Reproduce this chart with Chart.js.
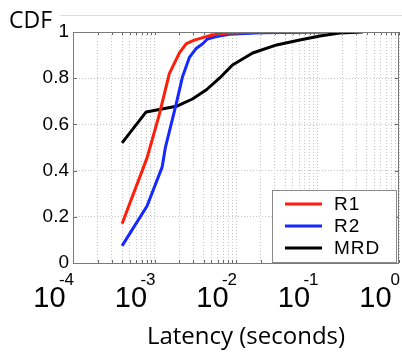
<!DOCTYPE html>
<html>
<head>
<meta charset="utf-8">
<script src="https://cdn.jsdelivr.net/npm/chart.js@4"></script>
<style>
  html, body { margin: 0; padding: 0; background: #fff; }
</style>
</head>
<body>
<canvas id="latency_cdf" width="402" height="354"></canvas>
<script>
// series (latency in seconds, CDF)
const seriesNames = ["R1", "R2", "MRD"];
const seriesColors = ["#ff1e0a", "#1428ff", "#000000"];

const r1Latency = [4.0e-4, 8.1e-4, 1.14e-3, 1.52e-3, 2.02e-3, 2.46e-3, 3.08e-3, 4.1e-3, 5.1e-3, 7.6e-3, 0.0195, 0.05];
const r1Cdf = [0.17, 0.455, 0.64, 0.82, 0.91, 0.95, 0.965, 0.978, 0.987, 0.995, 1.0, 1.0];

const r2Latency = [4.0e-4, 8.1e-4, 1.24e-3, 1.36e-3, 1.85e-3, 2.2e-3, 2.68e-3, 3.27e-3, 3.87e-3, 4.46e-3, 5.75e-3, 8.3e-3, 0.02, 0.13];
const r2Cdf = [0.074, 0.247, 0.415, 0.5, 0.69, 0.805, 0.89, 0.93, 0.948, 0.97, 0.98, 0.99, 0.997, 1.0];

const mrdLatency = [4.0e-4, 7.9e-4, 1.24e-3, 1.91e-3, 2.92e-3, 4.34e-3, 6.27e-3, 9.06e-3, 0.016, 0.0315, 0.0605, 0.107, 0.188, 0.36];
const mrdCdf = [0.52, 0.654, 0.667, 0.68, 0.71, 0.75, 0.8, 0.857, 0.909, 0.944, 0.965, 0.983, 0.996, 1.0];

// axis labels
const xDecades = [1e-4, 1e-3, 1e-2, 1e-1, 1];
const xExponents = ["-4", "-3", "-2", "-1", "0"];
const yTicks = [0, 0.2, 0.4, 0.6, 0.8, 1];
const xTitle = "Latency (seconds)";
const yTitle = "CDF";

const tickFont = "'Liberation Sans', Arial, sans-serif";
const titleFont = "'Open Sans', sans-serif";

function toPoints(xs, ys) {
  return xs.map((x, i) => ({ x: x, y: ys[i] }));
}

function minorTicks() {
  let ticks = [];
  for (let d = 0; d < xDecades.length - 1; d++) {
    for (let m = 1; m < 10; m++) ticks.push({ value: xDecades[d] * m });
  }
  ticks.push({ value: xDecades[xDecades.length - 1] });
  return ticks;
}

const decor = {
  id: "decor",
  afterDraw(chart) {
    const ctx = chart.ctx;
    const area = chart.chartArea;
    const xs = chart.scales.x;
    const ys = chart.scales.y;
    ctx.save();

    // separator line at the top
    ctx.strokeStyle = "#dddddd";
    ctx.lineWidth = 1;
    ctx.beginPath();
    ctx.moveTo(60, 15.5);
    ctx.lineTo(402, 15.5);
    ctx.stroke();

    // inner tick marks
    ctx.strokeStyle = "#666666";
    ctx.beginPath();
    xs.ticks.forEach(t => {
      let px = Math.round(xs.getPixelForValue(t.value)) + 0.5;
      ctx.moveTo(px, area.bottom);
      ctx.lineTo(px, area.bottom - 3);
      ctx.moveTo(px, area.top);
      ctx.lineTo(px, area.top + 3);
    });
    yTicks.forEach(v => {
      let py = Math.round(ys.getPixelForValue(v)) + 0.5;
      ctx.moveTo(area.left, py);
      ctx.lineTo(area.left + 4, py);
      ctx.moveTo(area.right, py);
      ctx.lineTo(area.right - 4, py);
    });
    ctx.stroke();

    // plot box
    ctx.strokeStyle = "#7a7a7a";
    ctx.strokeRect(area.left + 0.5, area.top + 0.5, area.right - area.left - 1, area.bottom - area.top);

    // x tick labels 10^k
    ctx.fillStyle = "#000";
    ctx.textAlign = "right";
    ctx.textBaseline = "alphabetic";
    xDecades.forEach((v, i) => {
      let px = xs.getPixelForValue(v) + 1;
      let exp = xExponents[i];
      ctx.font = "17px " + tickFont;
      let digitsW = ctx.measureText(exp.replace("-", "")).width;
      ctx.fillText(exp, px, 285);
      ctx.font = "29px " + tickFont;
      ctx.fillText("10", px - digitsW + 1, 307);
    });

    // axis titles
    ctx.font = "24px " + titleFont;
    ctx.textAlign = "center";
    ctx.fillText(xTitle, 246, 344);
    ctx.font = "23px " + titleFont;
    ctx.textAlign = "left";
    ctx.fillText(yTitle, 9, 28);

    // legend
    ctx.fillStyle = "#fff";
    ctx.fillRect(272, 190, 124, 72);
    ctx.strokeStyle = "#8a8a8a";
    ctx.strokeRect(272.5, 190.5, 124, 72);
    ctx.font = "19px " + tickFont;
    ctx.letterSpacing = "1px";
    ctx.textBaseline = "middle";
    chart.data.datasets.forEach((ds, i) => {
      let y = 204 + i * 22;
      ctx.strokeStyle = ds.borderColor;
      ctx.lineWidth = 3;
      ctx.beginPath();
      ctx.moveTo(285, y);
      ctx.lineTo(322, y);
      ctx.stroke();
      ctx.fillStyle = "#000";
      ctx.fillText(ds.label, 334, y + 1);
    });

    ctx.restore();
  },
};

function init() {
  const ctx = document.getElementById("latency_cdf");
  const data = {
    datasets: [
      { label: seriesNames[0], data: toPoints(r1Latency, r1Cdf), borderColor: seriesColors[0] },
      { label: seriesNames[1], data: toPoints(r2Latency, r2Cdf), borderColor: seriesColors[1] },
      { label: seriesNames[2], data: toPoints(mrdLatency, mrdCdf), borderColor: seriesColors[2] },
    ],
  };
  data.datasets.forEach(ds => {
    ds.borderWidth = 3;
    ds.pointRadius = 0;
    ds.tension = 0;
    ds.borderJoinStyle = "round";
    ds.fill = false;
  });

  new Chart(ctx, {
    type: "line",
    data: data,
    options: {
      responsive: false,
      animation: false,
      devicePixelRatio: 1,
      layout: { padding: { top: 32, right: 3, left: 0, bottom: 0 } },
      plugins: { legend: { display: false }, tooltip: { enabled: false } },
      scales: {
        x: {
          type: "logarithmic",
          min: 1e-4,
          max: 1,
          afterBuildTicks: s => { s.ticks = minorTicks(); },
          afterFit: s => { s.height = 91; },
          ticks: { display: false },
          grid: { color: "#c4c4c4", drawTicks: false },
          border: { display: false, dash: [1, 2] },
        },
        y: {
          type: "linear",
          min: 0,
          max: 1,
          afterBuildTicks: s => { s.ticks = yTicks.map(v => ({ value: v })); },
          afterFit: s => { s.width = 73; },
          ticks: {
            color: "#000",
            padding: 4,
            font: { family: tickFont, size: 19 },
            callback: v => String(Number(v.toFixed(1))),
          },
          grid: { color: "#c4c4c4", drawTicks: false },
          border: { display: false, dash: [1, 2] },
        },
      },
    },
    plugins: [decor],
  });
}

window.onload = init;
</script>
</body>
</html>
